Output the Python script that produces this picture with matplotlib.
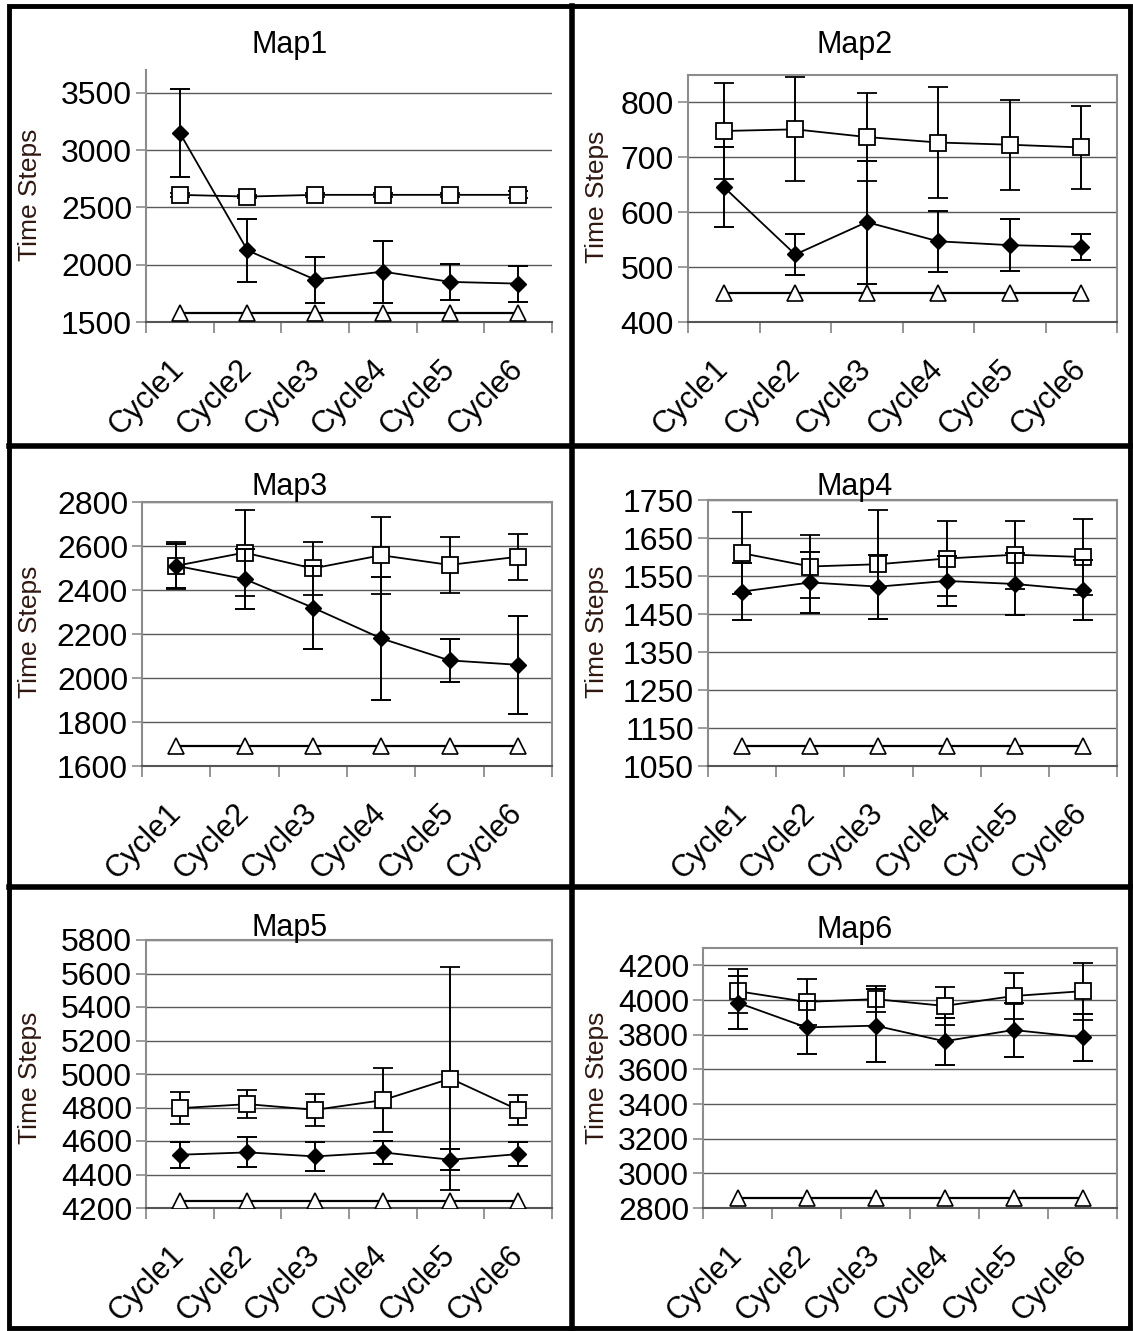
import numpy as np
import matplotlib.pyplot as plt
import matplotlib.transforms as mtransforms
from matplotlib.lines import Line2D
from matplotlib.patches import Rectangle

plt.rcParams['font.family'] = ['Liberation Sans', 'DejaVu Sans']

W, H = 1133, 1331

cycles = ['Cycle1', 'Cycle2', 'Cycle3', 'Cycle4', 'Cycle5', 'Cycle6']

# Map1
map1_dia = [3150, 2125, 1870, 1940, 1850, 1835]
map1_dia_err = [380, 277, 200, 270, 157, 157]
map1_sq = [2610, 2595, 2610, 2610, 2610, 2610]
map1_sq_err = [15, 15, 15, 15, 15, 30]
map1_tri = [1580, 1580, 1580, 1580, 1580, 1580]

# Map2
map2_dia = [646, 523, 582, 547, 540, 537]
map2_dia_err = [73, 37, 112, 56, 47, 24]
map2_sq = [748, 751, 737, 727, 723, 718]
map2_sq_err = [88, 95, 80, 101, 82, 76]
map2_tri = [452, 452, 452, 452, 452, 452]

# Map3
map3_dia = [2510, 2450, 2320, 2180, 2080, 2060]
map3_dia_err = [100, 136, 189, 278, 97, 224]
map3_sq = [2510, 2570, 2498, 2558, 2514, 2551]
map3_sq_err = [107, 195, 120, 174, 129, 104]
map3_tri = [1691, 1691, 1691, 1691, 1691, 1691]

# Map4
map4_dia = [1509, 1533, 1522, 1537, 1529, 1513]
map4_dia_err = [76, 80, 84, 65, 82, 80]
map4_sq = [1610, 1575, 1581, 1596, 1606, 1600]
map4_sq_err = [108, 83, 144, 99, 89, 100]
map4_tri = [1103, 1103, 1103, 1103, 1103, 1103]

# Map5
map5_dia = [4518, 4532, 4508, 4532, 4488, 4522]
map5_dia_err = [79, 90, 88, 70, 62, 72]
map5_sq = [4796, 4820, 4786, 4844, 4973, 4786]
map5_sq_err = [96, 85, 95, 190, 665, 90]
map5_tri = [4244, 4244, 4244, 4244, 4244, 4244]

# Map6
map6_dia = [3985, 3842, 3852, 3762, 3827, 3785]
map6_dia_err = [152, 152, 210, 135, 153, 137]
map6_sq = [4051, 3989, 4005, 3966, 4023, 4051]
map6_sq_err = [128, 135, 75, 110, 133, 165]
map6_tri = [2857, 2857, 2857, 2857, 2857, 2857]

titles = ['Map1', 'Map2', 'Map3', 'Map4', 'Map5', 'Map6']
yticks = [
    [1500, 2000, 2500, 3000, 3500],
    [400, 500, 600, 700, 800],
    [1600, 1800, 2000, 2200, 2400, 2600, 2800],
    [1050, 1150, 1250, 1350, 1450, 1550, 1650, 1750],
    [4200, 4400, 4600, 4800, 5000, 5200, 5400, 5600, 5800],
    [2800, 3000, 3200, 3400, 3600, 3800, 4000, 4200],
]
ytops = [3700, 850, 2800, 1750, 5800, 4300]
series = [
    (map1_dia, map1_dia_err, map1_sq, map1_sq_err, map1_tri),
    (map2_dia, map2_dia_err, map2_sq, map2_sq_err, map2_tri),
    (map3_dia, map3_dia_err, map3_sq, map3_sq_err, map3_tri),
    (map4_dia, map4_dia_err, map4_sq, map4_sq_err, map4_tri),
    (map5_dia, map5_dia_err, map5_sq, map5_sq_err, map5_tri),
    (map6_dia, map6_dia_err, map6_sq, map6_sq_err, map6_tri),
]

# plot areas in pixels: left, top, right, bottom
boxes = [
    (146, 70, 552, 322),
    (688, 75, 1117, 322),
    (142, 502, 552, 766),
    (708, 500, 1117, 766),
    (146, 940, 552, 1208),
    (703, 948, 1117, 1208),
]
title_pos = [(290, 45), (855, 45), (290, 487), (855, 487), (290, 928), (855, 930)]
ylabel_pos = [(30, 195), (597, 197), (30, 632), (597, 632), (30, 1078), (597, 1078)]

fig = plt.figure(figsize=(W / 100, H / 100), dpi=100)

grid_col = '#5a5a5a'
frame_col = '#8c8c8c'
x = np.arange(len(cycles))
shift = mtransforms.ScaledTranslation(-7 / 100, 0, fig.dpi_scale_trans)

for i in range(6):
    l, t, r, b = boxes[i]
    ax = fig.add_axes([l / W, 1 - b / H, (r - l) / W, (b - t) / H])
    dia, dia_err, sq, sq_err, tri = series[i]

    ax.errorbar(x, sq, yerr=sq_err, color='black', lw=1.3, marker='s', ms=11,
                mfc='white', mec='black', mew=1.3, capsize=7, capthick=1.4,
                elinewidth=1.4, zorder=4)
    ax.errorbar(x, dia, yerr=dia_err, color='black', lw=1.3, marker='D', ms=8,
                mfc='black', mec='black', capsize=7, capthick=1.4,
                elinewidth=1.4, zorder=5)
    ax.plot(x, tri, color='black', lw=1.6, marker='^', ms=11, mfc='white',
            mec='black', mew=1.2, zorder=4)

    ax.set_xlim(-0.5, len(cycles) - 0.5)
    ax.set_ylim(yticks[i][0], ytops[i])
    ax.set_yticks(yticks[i])
    ax.set_yticklabels([str(v) for v in yticks[i]], fontsize=23)
    for v in yticks[i][1:]:
        ax.axhline(v, color=grid_col, lw=1.0, zorder=1)

    ax.set_xticks(np.arange(-0.5, len(cycles), 1))
    ax.set_xticklabels([])
    ax.set_xticks(x, minor=True)
    ax.set_xticklabels(cycles, minor=True, rotation=45, ha='right',
                       va='center', rotation_mode='anchor', fontsize=22)
    for lab in ax.get_xticklabels(minor=True):
        lab.set_transform(lab.get_transform() + shift)
    ax.tick_params(axis='x', which='major', length=8, width=1.3,
                   color=frame_col, direction='out')
    ax.tick_params(axis='x', which='minor', length=0, pad=31)
    ax.tick_params(axis='y', length=7, width=1.2, color=frame_col,
                   direction='out', pad=3)

    for s in ax.spines.values():
        s.set_color(frame_col)
        s.set_linewidth(1.5)
    ax.spines['bottom'].set_color('#555555')
    if i == 0:
        ax.spines['top'].set_visible(False)
        ax.spines['right'].set_visible(False)

    fig.text(title_pos[i][0] / W, 1 - title_pos[i][1] / H, titles[i],
             fontsize=22, ha='center', va='center')
    fig.text(ylabel_pos[i][0] / W, 1 - ylabel_pos[i][1] / H, 'Time Steps',
             fontsize=19, rotation=90, ha='center', va='center',
             color='#301810')

# thick panel borders
fig.add_artist(Rectangle((9 / W, 1 - 1328 / H), (1130 - 9) / W, (1328 - 6) / H,
                         transform=fig.transFigure, fill=False,
                         edgecolor='black', lw=3.5))
fig.add_artist(Line2D([572 / W, 572 / W], [1 - 6 / H, 1 - 1328 / H],
                      transform=fig.transFigure, color='black', lw=4))
for yy in (446, 887):
    fig.add_artist(Line2D([9 / W, 1130 / W], [1 - yy / H, 1 - yy / H],
                          transform=fig.transFigure, color='black', lw=4))

fig.savefig('out.png', dpi=100)
